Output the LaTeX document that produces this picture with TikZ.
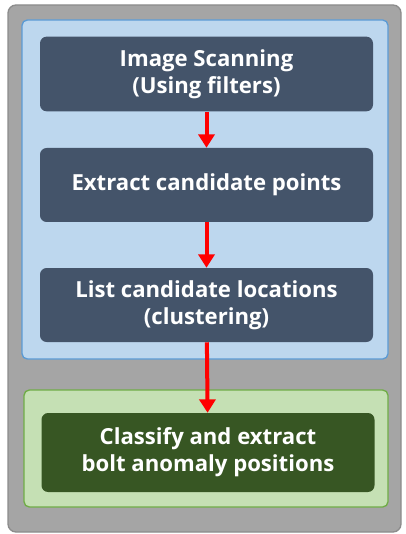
\documentclass[tikz,border=0pt]{standalone}
\usepackage{fontspec}
\setmainfont{Open Sans}
\usepackage{tikz}
\usetikzlibrary{arrows.meta,positioning}
\definecolor{outergray}{HTML}{A5A5A5}
\definecolor{outerline}{HTML}{8C8C8C}
\definecolor{stagefill}{HTML}{BDD7EE}
\definecolor{stageline}{HTML}{5B9BD5}
\definecolor{finalfill}{HTML}{C5E0B4}
\definecolor{finalline}{HTML}{70AD47}
\definecolor{stepfill}{HTML}{44546A}
\definecolor{resultfill}{HTML}{375623}
\tikzset{
  panel/.style={rectangle, rounded corners=4pt, line width=1pt, inner sep=0pt},
  stepbox/.style={rectangle, rounded corners=5pt, fill=stepfill, text=white, align=center,
    minimum width=249.75pt, minimum height=56pt, inner sep=0pt,
    font=\fontsize{16.6}{20.5}\selectfont\bfseries},
  flow/.style={-{Triangle[width=12pt,length=10pt]}, line width=3pt, red}
}

\begin{document}
\begin{tikzpicture}[x=0.75pt, y=-0.75pt]
        % fix page size to the reference
        \useasboundingbox (0,0) rectangle (405,534);
        % outer frame and the two group panels
        \node[panel, rounded corners=6pt, fill=outergray, draw=outerline, minimum width=294.75pt, minimum height=395.25pt] (frame) at (204.5,268.5) {};
        \node[panel, fill=stagefill, draw=stageline, minimum width=274.5pt, minimum height=254.25pt] (stage) at (205,189.5) {};
        \node[panel, fill=finalfill, draw=finalline, minimum width=273pt, minimum height=87.75pt] (final) at (206,448.5) {};
        
        % processing steps
        \node[stepbox] (scan) at (206.5,74) {Image Scanning\\(Using filters)};
        \node[stepbox, minimum height=55.5pt] (extract) at (206.5,185) {Extract candidate points};
        \node[stepbox, minimum height=55.5pt] (listloc) at (206.5,305) {List candidate locations\\(clustering)};
        \node[stepbox, fill=resultfill, minimum height=59.25pt] (classify) at (208,452.5) {Classify and extract\\bolt anomaly positions};
        
        % red arrows between the steps
        \draw[flow] (scan) -- (extract);
        \draw[flow] (extract) -- (listloc);
        \draw[flow] (listloc) -- (classify);
    \end{tikzpicture}
\end{document}
